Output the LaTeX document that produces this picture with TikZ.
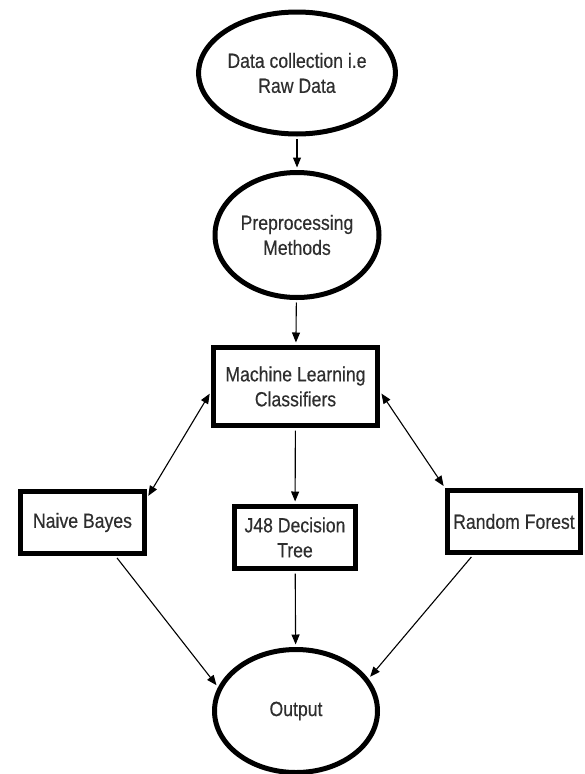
\documentclass[tikz,border=0pt]{standalone}
\usepackage{fontspec}
\setmainfont{Liberation Sans}[FakeStretch=0.86, FakeBold=0.4]
\usetikzlibrary{shapes.geometric,arrows.meta}
\definecolor{txt}{HTML}{2E2E2E}
\begin{document}
\begin{tikzpicture}[x=1pt,y=-1pt,
  every node/.style={font=\fontsize{20.5}{25}\selectfont, text=txt, align=center, inner sep=0pt},
  oval/.style={draw=black, ellipse, line width=5pt},
  boxnode/.style={draw=black, rectangle, line width=5pt},
  conn/.style={line width=1.1pt, -{Triangle[length=10pt,width=8pt]}},
  bconn/.style={line width=1.1pt, {Triangle[length=10pt,width=8pt]}-{Triangle[length=10pt,width=8pt]}}
]
\useasboundingbox (0,0) rectangle (584,774);
\node[oval, minimum width=165pt, minimum height=122pt] (raw) at (297,73) {Data collection i.e\\Raw Data};
\node[oval, minimum width=164pt, minimum height=125pt] (pre) at (297,235) {Preprocessing\\Methods};
\node[boxnode, minimum width=164pt, minimum height=78pt] (ml) at (295.5,386.5) {Machine Learning\\Classifiers};
\node[boxnode, minimum width=124pt, minimum height=62pt] (nb) at (82.5,522.5) {Naive Bayes};
\node[boxnode, minimum width=121pt, minimum height=62pt] (j48) at (295,537.5) {J48 Decision\\Tree};
\node[boxnode, minimum width=133pt, minimum height=62pt] (rf) at (514,521.5) {Random Forest};
\node[oval, minimum width=163pt, minimum height=123pt] (out) at (296,711) {Output};

\draw[conn, shorten >=2.5pt, shorten <=2.5pt] (raw) -- (pre);
\draw[conn, shorten >=2.5pt, shorten <=2.5pt] (pre) -- (ml);
\draw[bconn, shorten >=2.5pt, shorten <=2.5pt] ([yshift=-5pt]ml.west) -- ([yshift=-9pt]nb.north east);
\draw[bconn, shorten >=2.5pt, shorten <=2.5pt] ([yshift=-5pt]ml.east) -- (rf.north west);
\draw[conn, shorten >=2.5pt, shorten <=2.5pt] (ml) -- (j48);
\draw[conn, shorten >=2.5pt, shorten <=2.5pt] ([xshift=33pt]nb.south) -- (out.163);
\draw[conn, shorten >=2.5pt, shorten <=2.5pt] (j48) -- (out);
\draw[conn, shorten >=2.5pt, shorten <=2.5pt] ([xshift=-41pt]rf.south) -- (out.24);
\end{tikzpicture}
\end{document}
